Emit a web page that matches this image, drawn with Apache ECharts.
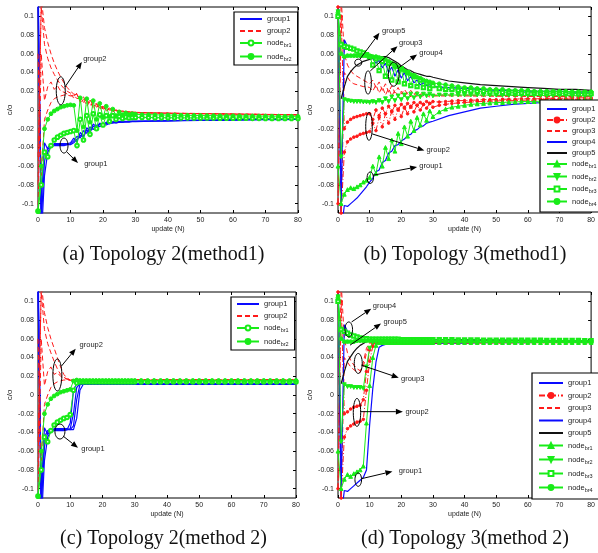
<!DOCTYPE html>
<html>
<head>
<meta charset="utf-8">
<script src="https://cdn.jsdelivr.net/npm/echarts@6/dist/echarts.min.js"></script>
<style>
  html, body { margin: 0; background: #fff; }
  #chart { width: 598px; height: 553px; }
</style>
</head>
<body>
<div id="chart"></div>
<script>
// sample positions (update N)
const XL = [0,1,2,3,4,5,6,7,8,9,10,11,12,13,14,15,16,17,18,19,20,21,22,23,24,25,26,27,28,29,30,35,40,45,50,55,60,65,70,75,80];
const XM = [0,1,2,3,4,5,6,7,8,9,10,11,12,13,14,15,16,17,18,19,20,21,22,23,24,25,26,27,28,29,30,
  32,34,36,38,40,42,44,46,48,50,52,54,56,58,60,62,64,66,68,70,72,74,76,78,80];
const Y_TICKS = [-0.1,-0.08,-0.06,-0.04,-0.02,0,0.02,0.04,0.06,0.08,0.1];

// ---- (a) Topology 2, method 1 ----
const A_BLUE = [
  [0.150,-0.120,-0.055,-0.040,-0.037,-0.037,-0.037,-0.037,-0.037,-0.037,
   -0.036,-0.033,-0.028,-0.030,-0.022,-0.025,-0.018,-0.021,-0.016,-0.018,
   -0.015,-0.016,-0.014,-0.014,-0.013,-0.013,-0.013,-0.0125,-0.0125,-0.012,
   -0.012,-0.0118,-0.0115,-0.0112,-0.011,-0.0108,-0.0105,-0.0103,-0.010,-0.0098,-0.0096],
  [0.130,-0.140,-0.070,-0.045,-0.039,-0.038,-0.038,-0.038,-0.038,-0.037,
   -0.037,-0.035,-0.031,-0.027,-0.029,-0.021,-0.024,-0.017,-0.020,-0.015,
   -0.017,-0.014,-0.015,-0.013,-0.014,-0.013,-0.0132,-0.0128,-0.013,-0.0125,
   -0.0125,-0.012,-0.0118,-0.0115,-0.0112,-0.011,-0.0108,-0.0106,-0.0104,-0.0102,-0.010],
  [0.110,-0.100,-0.035,-0.042,-0.038,-0.036,-0.036,-0.036,-0.036,-0.036,
   -0.035,-0.030,-0.034,-0.024,-0.028,-0.019,-0.022,-0.015,-0.018,-0.014,
   -0.016,-0.013,-0.014,-0.0125,-0.013,-0.0122,-0.0125,-0.012,-0.012,-0.0118,
   -0.0118,-0.0115,-0.0112,-0.011,-0.0107,-0.0105,-0.0102,-0.010,-0.0098,-0.0096,-0.0094]
];
const A_RED = [
  [-0.080,0.120,0.088,0.072,0.060,0.050,0.042,0.035,0.029,0.024,
   0.020,0.017,0.016,0.011,0.014,0.007,0.010,0.004,0.006,0.002,
   0.003,0.000,0.001,-0.001,0.000,-0.001,-0.0015,-0.002,-0.002,-0.0025,
   -0.0025,-0.003,-0.0032,-0.0035,-0.0037,-0.004,-0.0042,-0.0044,-0.0046,-0.0048,-0.005],
  [-0.110,0.060,0.010,0.025,0.030,0.022,0.026,0.020,0.019,0.017,
   0.016,0.013,0.017,0.008,0.012,0.004,0.009,0.002,0.006,0.001,
   0.003,-0.001,0.001,-0.002,0.000,-0.002,-0.001,-0.0025,-0.002,-0.003,
   -0.003,-0.0033,-0.0036,-0.0038,-0.004,-0.0042,-0.0044,-0.0046,-0.0048,-0.005,-0.0052],
  [0.060,-0.070,-0.010,0.000,0.008,0.012,0.014,0.015,0.016,0.016,
   0.015,0.016,0.012,0.014,0.008,0.011,0.005,0.008,0.003,0.005,
   0.001,0.002,0.000,0.000,-0.001,-0.001,-0.002,-0.002,-0.0025,-0.0025,
   -0.003,-0.0032,-0.0035,-0.0038,-0.004,-0.0042,-0.0045,-0.0047,-0.005,-0.0052,-0.0054],
  [-0.050,0.110,0.070,0.055,0.045,0.038,0.032,0.027,0.023,0.020,
   0.018,0.015,0.018,0.012,0.013,0.009,0.011,0.005,0.007,0.003,
   0.004,0.001,0.002,0.000,0.000,-0.001,-0.001,-0.002,-0.002,-0.002,
   -0.0025,-0.003,-0.0033,-0.0036,-0.0039,-0.0041,-0.0043,-0.0045,-0.0047,-0.0049,-0.005]
];
const A_NBR1 = [
  -0.108,-0.080,-0.045,-0.050,-0.038,-0.032,-0.029,-0.027,-0.025,-0.024,
  -0.023,-0.022,-0.038,-0.010,-0.032,-0.006,-0.026,-0.004,-0.020,-0.005,
  -0.016,-0.006,-0.012,-0.006,-0.010,-0.007,-0.009,-0.0075,-0.0085,-0.008,
  -0.008,-0.008,-0.008,-0.0082,-0.0082,-0.0083,-0.0083,-0.0084,-0.0084,-0.0085,-0.0085,-0.0086,-0.0086,
  -0.0087,-0.0087,-0.0088,-0.0088,-0.0088,-0.0089,-0.0089,-0.009,-0.009,-0.009,-0.009,-0.009,-0.009];
const A_NBR2 = [
  -0.108,-0.060,-0.020,-0.010,-0.004,-0.001,0.001,0.003,0.004,0.005,
  0.0055,0.005,-0.022,0.013,-0.018,0.012,-0.013,0.010,-0.010,0.007,
  -0.008,0.004,-0.007,0.001,-0.006,-0.002,-0.005,-0.003,-0.005,-0.004,
  -0.0045,-0.005,-0.005,-0.0052,-0.0053,-0.0054,-0.0055,-0.0056,-0.0057,-0.0058,-0.0059,-0.006,-0.006,
  -0.0061,-0.0062,-0.0062,-0.0063,-0.0064,-0.0064,-0.0065,-0.0065,-0.0066,-0.0066,-0.0067,-0.0067,-0.0068];

// ---- (c) Topology 2, method 2 ----
const C_BLUE = [
  [0.150,-0.120,-0.055,-0.040,-0.037,-0.037,-0.037,-0.037,-0.037,-0.037,
   -0.030,0.005,0.012,0.012,0.012,0.012,0.012,0.012,0.012,0.012,
   0.012,0.012,0.012,0.012,0.012,0.012,0.012,0.012,0.012,0.012,
   0.012,0.012,0.012,0.012,0.012,0.012,0.012,0.012,0.012,0.012,0.012],
  [0.130,-0.140,-0.070,-0.045,-0.039,-0.038,-0.038,-0.038,-0.038,-0.037,
   -0.036,-0.020,0.008,0.0118,0.0118,0.0118,0.0118,0.0118,0.0118,0.0118,
   0.0118,0.0118,0.0118,0.0118,0.0118,0.0118,0.0118,0.0118,0.0118,0.0118,
   0.0118,0.0118,0.0118,0.0118,0.0118,0.0118,0.0118,0.0118,0.0118,0.0118,0.0118],
  [0.110,-0.100,-0.035,-0.042,-0.038,-0.036,-0.036,-0.036,-0.036,-0.036,
   -0.037,-0.033,-0.005,0.011,0.0115,0.0115,0.0115,0.0115,0.0115,0.0115,
   0.0115,0.0115,0.0115,0.0115,0.0115,0.0115,0.0115,0.0115,0.0115,0.0115,
   0.0115,0.0115,0.0115,0.0115,0.0115,0.0115,0.0115,0.0115,0.0115,0.0115,0.0115],
  [0.120,-0.110,-0.045,-0.038,-0.037,-0.037,-0.037,-0.037,-0.037,-0.037,
   -0.037,-0.037,-0.025,0.005,0.0112,0.0112,0.0112,0.0112,0.0112,0.0112,
   0.0112,0.0112,0.0112,0.0112,0.0112,0.0112,0.0112,0.0112,0.0112,0.0112,
   0.0112,0.0112,0.0112,0.0112,0.0112,0.0112,0.0112,0.0112,0.0112,0.0112,0.0112]
];
const C_RED = [
  [-0.080,0.120,0.088,0.072,0.060,0.050,0.040,0.030,0.022,0.018,
   0.016,0.016,0.016,0.016,0.016,0.016,0.016,0.016,0.016,0.016,
   0.016,0.016,0.016,0.016,0.016,0.016,0.016,0.016,0.016,0.016,
   0.016,0.016,0.016,0.016,0.016,0.016,0.016,0.016,0.016,0.016,0.016],
  [-0.110,0.060,0.010,0.025,0.030,0.022,0.024,0.020,0.018,0.017,
   0.0162,0.0162,0.0162,0.0162,0.0162,0.0162,0.0162,0.0162,0.0162,0.0162,
   0.0162,0.0162,0.0162,0.0162,0.0162,0.0162,0.0162,0.0162,0.0162,0.0162,
   0.0162,0.0162,0.0162,0.0162,0.0162,0.0162,0.0162,0.0162,0.0162,0.0162,0.0162],
  [0.060,-0.070,-0.010,0.000,0.008,0.012,0.014,0.015,0.016,0.016,
   0.0155,0.0155,0.0155,0.0155,0.0155,0.0155,0.0155,0.0155,0.0155,0.0155,
   0.0155,0.0155,0.0155,0.0155,0.0155,0.0155,0.0155,0.0155,0.0155,0.0155,
   0.0155,0.0155,0.0155,0.0155,0.0155,0.0155,0.0155,0.0155,0.0155,0.0155,0.0155],
  [-0.050,0.110,0.070,0.055,0.045,0.036,0.028,0.022,0.019,0.017,
   0.0165,0.0165,0.0165,0.0165,0.0165,0.0165,0.0165,0.0165,0.0165,0.0165,
   0.0165,0.0165,0.0165,0.0165,0.0165,0.0165,0.0165,0.0165,0.0165,0.0165,
   0.0165,0.0165,0.0165,0.0165,0.0165,0.0165,0.0165,0.0165,0.0165,0.0165,0.0165]
];
const C_NBR1 = [
  -0.108,-0.080,-0.045,-0.050,-0.038,-0.032,-0.029,-0.027,-0.025,-0.024,
  -0.021,0.005,0.013,0.014,0.014,0.014,0.014,0.014,0.014,0.014,
  0.014,0.014,0.014,0.014,0.014,0.014,0.014,0.014,0.014,0.014,
  0.014,0.014,0.014,0.014,0.014,0.014,0.014,0.014,0.014,0.014,0.014,0.014,0.014,
  0.014,0.014,0.014,0.014,0.014,0.014,0.014,0.014,0.014,0.014,0.014,0.014,0.014];
const C_NBR2 = [
  -0.108,-0.060,-0.020,-0.010,-0.004,-0.001,0.001,0.003,0.004,0.005,
  0.006,0.015,0.016,0.0155,0.0155,0.0155,0.0155,0.0155,0.0155,0.0155,
  0.0155,0.0155,0.0155,0.0155,0.0155,0.0155,0.0155,0.0155,0.0155,0.0155,
  0.0155,0.0155,0.0155,0.0155,0.0155,0.0155,0.0155,0.0155,0.0155,0.0155,0.0155,0.0155,0.0155,
  0.0155,0.0155,0.0155,0.0155,0.0155,0.0155,0.0155,0.0155,0.0155,0.0155,0.0155,0.0155,0.0155];

// ---- (b) Topology 3, method 1 ----
const B_G1 = [
  0.150,-0.130,-0.102,-0.103,-0.100,-0.097,-0.094,-0.090,-0.086,-0.082,
  -0.077,-0.073,-0.066,-0.064,-0.056,-0.054,-0.046,-0.044,-0.038,-0.037,
  -0.033,-0.031,-0.027,-0.026,-0.022,-0.021,-0.018,-0.017,-0.014,-0.013,
  -0.012,-0.006,-0.002,0.002,0.004,0.006,0.007,0.008,0.0085,0.009,0.0095];
const B_G2 = [
  [0.110,-0.110,-0.045,-0.034,-0.031,-0.029,-0.028,-0.026,-0.025,-0.024,
   -0.023,-0.014,-0.022,-0.008,-0.018,-0.004,-0.014,-0.001,-0.010,0.001,
   -0.007,0.003,-0.004,0.004,-0.002,0.005,0.000,0.006,0.002,0.007,
   0.003,0.005,0.006,0.007,0.0075,0.008,0.0085,0.009,0.009,0.0095,0.0095,0.010,0.010,
   0.010,0.0105,0.0105,0.0105,0.011,0.011,0.011,0.011,0.0115,0.0115,0.0115,0.0115,0.012],
  [-0.100,0.100,-0.020,-0.013,-0.010,-0.008,-0.007,-0.006,-0.005,-0.004,
   -0.004,-0.010,0.000,-0.006,0.002,-0.004,0.004,-0.002,0.005,0.000,
   0.006,0.002,0.007,0.003,0.008,0.005,0.008,0.006,0.009,0.007,
   0.009,0.0085,0.009,0.0095,0.010,0.010,0.0105,0.0105,0.011,0.011,0.011,0.0115,0.0115,
   0.0115,0.012,0.012,0.012,0.012,0.0125,0.0125,0.0125,0.0125,0.013,0.013,0.013,0.013]
];
const B_G3 = [
  [-0.100,0.120,0.060,0.048,0.042,0.038,0.036,0.034,0.032,0.030,
   0.028,0.032,0.024,0.030,0.021,0.028,0.019,0.026,0.018,0.024,
   0.017,0.022,0.017,0.021,0.016,0.020,0.016,0.019,0.016,0.018,
   0.016,0.016,0.016,0.0158,0.0155,0.0155,0.0152,0.015,0.015,0.015,0.015],
  [0.110,-0.110,0.040,0.035,0.030,0.028,0.027,0.026,0.025,0.025,
   0.024,0.020,0.027,0.018,0.025,0.016,0.023,0.015,0.021,0.015,
   0.020,0.014,0.019,0.014,0.018,0.014,0.017,0.014,0.016,0.014,
   0.015,0.015,0.015,0.0148,0.0147,0.0146,0.0145,0.0145,0.0144,0.0144,0.0143]
];
const B_G4 = [
  0.120,-0.100,0.075,0.068,0.066,0.064,0.063,0.062,0.061,0.059,
  0.057,0.055,0.050,0.053,0.045,0.050,0.040,0.046,0.036,0.043,
  0.034,0.040,0.031,0.036,0.029,0.032,0.027,0.029,0.026,0.027,
  0.025,0.024,0.023,0.022,0.021,0.021,0.020,0.020,0.020,0.019,0.019];
const B_G5 = [
  null,0.012,0.025,0.036,0.041,0.045,0.048,0.050,0.052,0.053,
  0.054,0.055,0.056,0.056,0.057,0.057,0.056,0.054,0.052,0.050,
  0.047,0.045,0.043,0.042,0.040,0.039,0.038,0.037,0.036,0.036,
  0.035,0.031,0.029,0.027,0.026,0.025,0.024,0.023,0.022,0.022,0.021];
const B_NBR1 = [
  -0.060,-0.100,-0.090,-0.085,-0.083,-0.084,-0.082,-0.080,-0.077,-0.075,
  -0.072,-0.060,-0.068,-0.050,-0.060,-0.040,-0.052,-0.032,-0.044,-0.025,
  -0.036,-0.018,-0.028,-0.012,-0.022,-0.008,-0.016,-0.004,-0.011,-0.001,
  -0.007,-0.002,0.001,0.003,0.004,0.005,0.006,0.0065,0.007,0.0075,0.008,0.008,0.0085,
  0.0085,0.009,0.009,0.009,0.0095,0.0095,0.0095,0.010,0.010,0.010,0.010,0.0105,0.0105];
const B_NBR2 = [
  0.105,-0.050,0.011,0.010,0.0095,0.009,0.009,0.009,0.0085,0.0085,
  0.008,0.009,0.008,0.010,0.008,0.012,0.009,0.014,0.010,0.015,
  0.011,0.016,0.012,0.017,0.013,0.017,0.014,0.017,0.015,0.017,
  0.015,0.016,0.016,0.016,0.016,0.016,0.016,0.016,0.016,0.0158,0.0158,0.0157,0.0157,
  0.0156,0.0156,0.0155,0.0155,0.0155,0.0154,0.0154,0.0153,0.0153,0.0152,0.0152,0.0151,0.015];
const B_NBR3 = [
  0.100,0.070,0.068,0.067,0.066,0.065,0.063,0.062,0.061,0.059,
  0.057,0.048,0.055,0.042,0.052,0.036,0.050,0.032,0.047,0.030,
  0.044,0.028,0.040,0.026,0.036,0.025,0.032,0.024,0.029,0.023,
  0.026,0.023,0.022,0.022,0.021,0.021,0.0205,0.020,0.020,0.0195,0.0195,0.019,0.019,
  0.019,0.0185,0.0185,0.0185,0.018,0.018,0.018,0.018,0.0178,0.0178,0.0176,0.0176,0.0175];
const B_NBR4 = [
  0.104,0.060,0.057,0.058,0.058,0.058,0.058,0.058,0.058,0.058,
  0.058,0.057,0.057,0.056,0.055,0.054,0.052,0.050,0.048,0.046,
  0.044,0.042,0.040,0.038,0.037,0.035,0.034,0.032,0.031,0.030,
  0.029,0.028,0.027,0.026,0.025,0.024,0.024,0.023,0.023,0.022,0.022,0.022,0.021,
  0.021,0.021,0.021,0.020,0.020,0.020,0.020,0.020,0.020,0.0195,0.0195,0.0195,0.0195];

// ---- (d) Topology 3, method 2 ----
const D_G1 = [
  0.150,-0.130,-0.102,-0.103,-0.100,-0.097,-0.094,-0.091,-0.088,-0.080,
  -0.032,0.007,0.035,0.051,0.053,0.054,0.054,0.055,0.055,0.055,
  0.055,0.055,0.055,0.055,0.055,0.055,0.055,0.055,0.055,0.055,
  0.055,0.0555,0.0555,0.056,0.056,0.056,0.056,0.0565,0.0565,0.0565,0.057];
const D_G2 = [
  [0.110,-0.110,-0.045,-0.036,-0.033,-0.031,-0.029,-0.028,-0.026,0.005,
   0.036,0.052,0.055,0.0555,0.0555,0.0555,0.0555,0.0555,0.0555,0.0555,
   0.0555,0.0555,0.0555,0.0555,0.0555,0.0555,0.0555,0.0555,0.0555,0.0555,
   0.0555,0.0555,0.0555,0.0555,0.0555,0.0555,0.0555,0.0555,0.0555,0.0555,0.0555,0.0555,0.0555,
   0.0558,0.0558,0.0558,0.0558,0.0558,0.0558,0.0558,0.056,0.056,0.056,0.056,0.056,0.056],
  [-0.100,0.100,-0.020,-0.018,-0.015,-0.013,-0.012,-0.011,-0.005,0.025,
   0.048,0.055,0.056,0.056,0.056,0.056,0.056,0.056,0.056,0.056,
   0.056,0.056,0.056,0.056,0.056,0.056,0.056,0.056,0.056,0.056,
   0.056,0.056,0.056,0.056,0.056,0.056,0.056,0.056,0.056,0.056,0.056,0.056,0.056,
   0.056,0.056,0.056,0.056,0.056,0.056,0.056,0.056,0.056,0.056,0.056,0.056,0.056]
];
const D_G3 = [
  [-0.100,0.120,0.060,0.045,0.037,0.032,0.028,0.026,0.030,0.045,
   0.055,0.057,0.057,0.057,0.057,0.057,0.057,0.057,0.057,0.057,
   0.057,0.057,0.057,0.057,0.057,0.057,0.057,0.057,0.057,0.057,
   0.057,0.057,0.057,0.057,0.057,0.057,0.057,0.057,0.057,0.057,0.057],
  [0.110,-0.110,0.040,0.035,0.030,0.027,0.025,0.024,0.035,0.050,
   0.056,0.056,0.056,0.056,0.056,0.056,0.056,0.056,0.056,0.056,
   0.056,0.056,0.056,0.056,0.056,0.056,0.056,0.056,0.056,0.056,
   0.056,0.056,0.056,0.056,0.056,0.056,0.056,0.056,0.056,0.056,0.056]
];
const D_G4 = [
  0.120,-0.100,0.075,0.068,0.066,0.064,0.063,0.062,0.061,0.060,
  0.060,0.060,0.0598,0.0596,0.0595,0.0594,0.0593,0.0592,0.059,0.059,
  0.059,0.059,0.059,0.059,0.059,0.059,0.059,0.059,0.059,0.059,
  0.059,0.0588,0.0586,0.0585,0.0584,0.0583,0.0582,0.0582,0.058,0.058,0.058];
const D_G5 = [
  null,0.012,0.025,0.036,0.041,0.046,0.050,0.053,0.055,0.057,
  0.058,0.059,0.059,0.059,0.059,0.059,0.059,0.059,0.059,0.059,
  0.059,0.059,0.059,0.059,0.059,0.059,0.059,0.059,0.059,0.059,
  0.059,0.059,0.0588,0.0586,0.0585,0.0584,0.0583,0.0582,0.0582,0.0581,0.058];
const D_NBR1 = [
  -0.060,-0.100,-0.090,-0.085,-0.087,-0.084,-0.082,-0.080,-0.076,-0.030,
  0.010,0.040,0.053,0.056,0.056,0.056,0.056,0.056,0.056,0.056,
  0.056,0.056,0.056,0.056,0.056,0.056,0.056,0.056,0.056,0.056,
  0.056,0.056,0.056,0.056,0.056,0.056,0.056,0.056,0.056,0.056,0.056,0.056,0.056,
  0.056,0.056,0.056,0.056,0.056,0.056,0.056,0.056,0.056,0.056,0.056,0.056,0.056];
const D_NBR2 = [
  0.105,-0.050,0.011,0.009,0.009,0.008,0.008,0.008,0.007,0.030,
  0.050,0.056,0.0565,0.0565,0.0565,0.0565,0.0565,0.0565,0.0565,0.0565,
  0.0565,0.0565,0.0565,0.0565,0.0565,0.0565,0.0565,0.0565,0.0565,0.0565,
  0.0565,0.0565,0.0565,0.0565,0.0565,0.0565,0.0565,0.0565,0.0565,0.0565,0.0565,0.0565,0.0565,
  0.0565,0.0565,0.0565,0.0565,0.0565,0.0565,0.0565,0.0565,0.0565,0.0565,0.0565,0.0565,0.0565];
const D_NBR3 = [
  0.100,0.070,0.068,0.066,0.064,0.063,0.062,0.061,0.060,0.060,
  0.0595,0.0595,0.0595,0.0595,0.0595,0.0595,0.0595,0.0595,0.0595,0.0595,
  0.059,0.059,0.059,0.059,0.059,0.059,0.059,0.059,0.059,0.059,
  0.059,0.059,0.059,0.059,0.0588,0.0588,0.0588,0.0588,0.0586,0.0586,0.0586,0.0586,0.0585,
  0.0585,0.0585,0.0584,0.0584,0.0584,0.0583,0.0583,0.0583,0.0582,0.0582,0.0582,0.058,0.058];
const D_NBR4 = [
  0.104,0.060,0.057,0.057,0.057,0.057,0.058,0.058,0.058,0.058,
  0.058,0.058,0.058,0.058,0.058,0.058,0.058,0.058,0.058,0.058,
  0.0578,0.0578,0.0578,0.0578,0.0578,0.0578,0.0578,0.0578,0.0578,0.0578,
  0.0575,0.0575,0.0575,0.0575,0.0575,0.0575,0.0575,0.0575,0.0575,0.0575,0.0575,0.0575,0.0575,
  0.0575,0.0575,0.0575,0.0575,0.0575,0.0575,0.0575,0.0575,0.0575,0.0575,0.0575,0.0575,0.0575];

// annotation callouts, in data coordinates (c = ellipse centre, r = ellipse radii in px)
const ANN_A = [
  {t:'group2', c:[7.0,0.0205], r:[4.5,14], from:[8.3,0.0246], to:[13.5,0.0513], at:[13.9,0.0542]},
  {t:'group1', c:[8.0,-0.038], r:[4,7.5], from:[8.9,-0.0449], to:[12.3,-0.0567], at:[14.2,-0.0578]}
];
const ANN_B = [
  {t:'group5', c:[6.4,0.0506], r:[3.5,3.5], from:[6.9,0.0541], to:[13.1,0.0824], at:[13.9,0.0845]},
  {t:'group3', c:[9.5,0.0294], r:[3.3,11.7], from:[10.2,0.0417], to:[18.8,0.0682], at:[19.3,0.0718]},
  {t:'group4', c:[17.6,0.0382], r:[5.3,12], from:[19.3,0.0453], to:[25,0.0594], at:[25.7,0.0605]},
  {t:'group2', c:[9.8,-0.0175], r:[3.3,14], from:[10.8,-0.0255], to:[27.3,-0.0432], at:[28,-0.0425]},
  {t:'group1', c:[10.2,-0.0723], r:[3.2,5.8], from:[11,-0.0697], to:[25,-0.0608], at:[25.7,-0.0601]}
];
const ANN_C = [
  {t:'group2', c:[6.0,0.0214], r:[4.5,16], from:[7.3,0.031], to:[11.7,0.0495], at:[12.9,0.0535]},
  {t:'group1', c:[6.8,-0.039], r:[5,7.5], from:[7.8,-0.0439], to:[12.4,-0.0564], at:[13.4,-0.0578]}
];
const ANN_D = [
  {t:'group4', c:[3.4,0.07], r:[3.8,7.5], from:[4.3,0.078], to:[10.5,0.0922], at:[11,0.095]},
  {t:'group5', c:null, from:[3.8,0.0532], to:[13.6,0.0763], at:[14.4,0.078]},
  {t:'group3', c:[6.4,0.0337], r:[4,10], from:[7.4,0.0319], to:[19.2,0.0184], at:[19.9,0.017]},
  {t:'group2', c:[6.0,-0.0186], r:[3.7,14], from:[7.1,-0.0178], to:[20.5,-0.0178], at:[21.3,-0.0178]},
  {t:'group1', c:[6.4,-0.0904], r:[3.3,6.7], from:[7.4,-0.0894], to:[17.2,-0.0816], at:[19.2,-0.0816]}
];

const FONT = '"Liberation Sans", Arial, sans-serif';
const GREEN = '#18ec18';
const STY = {
  blue:   {color: '#0a0aff', width: 1.2},
  red:    {color: '#ff1a1a', width: 1, type: [5, 3]},
  redDot: {color: '#ff1a1a', width: 1, type: [6, 2, 1, 2], symbol: 'circle', size: 2.6},
  black:  {color: '#111111', width: 1.2},
  gOpen:  {color: GREEN, width: 1, symbol: 'emptyCircle', size: 3.6},
  gFill:  {color: GREEN, width: 1, symbol: 'circle', size: 3.8},
  gUp:    {color: GREEN, width: 1, symbol: 'triangle', size: 3.8},
  gDown:  {color: GREEN, width: 1, symbol: 'triangle', size: 3.8, rotate: 180},
  gSq:    {color: GREEN, width: 1, symbol: 'emptyRect', size: 3.4}
};

const PANELS = [
  { key: 'a', grid: {left: 38, top: 7, width: 260, height: 206}, nameGap: 24,
    caption: '(a) Topology 2(method1)', cap: [163.5, 254.5],
    legend: {left: 234, top: 12, iw: 22, gap: 4, pad: [3, 6, 3, 5]},
    sets: [['group1','blue',XL,A_BLUE], ['group2','red',XL,A_RED],
           ['node_br1','gOpen',XM,[A_NBR1]], ['node_br2','gFill',XM,[A_NBR2]]],
    ann: ANN_A },
  { key: 'b', grid: {left: 338, top: 7, width: 259, height: 206}, nameGap: 24,
    caption: '(b) Topology 3(method1)', cap: [465, 254.5],
    legend: {left: 540, top: 100, iw: 20, gap: 3, pad: [5, 4, 5, 6]},
    sets: [['group1','blue',XL,[B_G1]], ['group2','redDot',XM,B_G2], ['group3','red',XL,B_G3],
           ['group4','blue',XL,[B_G4]], ['group5','black',XL,[B_G5]],
           ['node_br1','gUp',XM,[B_NBR1]], ['node_br2','gDown',XM,[B_NBR2]],
           ['node_br3','gSq',XM,[B_NBR3]], ['node_br4','gFill',XM,[B_NBR4]]],
    ann: ANN_B },
  { key: 'c', grid: {left: 38, top: 292, width: 258, height: 206}, nameGap: 24,
    caption: '(c) Topology 2(method 2)', cap: [163.5, 539],
    legend: {left: 231, top: 297, iw: 22, gap: 4, pad: [3, 6, 3, 5]},
    sets: [['group1','blue',XL,C_BLUE], ['group2','red',XL,C_RED],
           ['node_br1','gOpen',XM,[C_NBR1]], ['node_br2','gFill',XM,[C_NBR2]]],
    ann: ANN_C },
  { key: 'd', grid: {left: 338, top: 292, width: 259, height: 206}, nameGap: 24,
    caption: '(d) Topology 3(method 2)', cap: [465, 539],
    legend: {left: 532, top: 373, iw: 24, gap: 4.5, pad: [6, 6, 6, 6]},
    sets: [['group1','blue',XL,[D_G1]], ['group2','redDot',XM,D_G2], ['group3','red',XL,D_G3],
           ['group4','blue',XL,[D_G4]], ['group5','black',XL,[D_G5]],
           ['node_br1','gUp',XM,[D_NBR1]], ['node_br2','gDown',XM,[D_NBR2]],
           ['node_br3','gSq',XM,[D_NBR3]], ['node_br4','gFill',XM,[D_NBR4]]],
    ann: ANN_D }
];

const tickFmt = v => String(+(+v).toFixed(2));

const grids = [], xAxes = [], yAxes = [], series = [], legends = [];
PANELS.forEach((p, gi) => {
  grids.push(Object.assign({show: true, backgroundColor: '#fff', borderColor: '#000', borderWidth: 1}, p.grid));
  ['bottom', 'top'].forEach(pos => xAxes.push({
    type: 'value', gridIndex: gi, position: pos, min: 0, max: 80, interval: 10,
    axisLine: {show: false, onZero: false}, splitLine: {show: false},
    axisTick: {show: true, inside: true, length: 3, lineStyle: {color: '#000'}},
    axisLabel: {show: pos === 'bottom', fontSize: 7, color: '#222', margin: 4, fontFamily: FONT},
    name: pos === 'bottom' ? 'update (N)' : '', nameLocation: 'middle', nameGap: 13,
    nameTextStyle: {fontSize: 7, color: '#222', fontFamily: FONT}
  }));
  ['left', 'right'].forEach(pos => yAxes.push({
    type: 'value', gridIndex: gi, position: pos, min: -0.11, max: 0.11,
    axisLine: {show: false, onZero: false}, splitLine: {show: false},
    axisTick: {show: true, inside: true, length: 3, customValues: Y_TICKS, lineStyle: {color: '#000'}},
    axisLabel: {show: pos === 'left', customValues: Y_TICKS, formatter: tickFmt,
                fontSize: 7, color: '#222', margin: 4, fontFamily: FONT},
    name: pos === 'left' ? 'c/o' : '', nameLocation: 'middle', nameGap: p.nameGap, nameRotate: 90,
    nameTextStyle: {fontSize: 8, color: '#222', fontFamily: FONT}
  }));
  const names = [];
  p.sets.forEach(([name, sty, xs, lines]) => {
    const s = STY[sty];
    const full = p.key + '|' + name;
    // marker-less entries: hide the legend's default dot, keep its line
    names.push(s.symbol ? {name: full} : {name: full, itemStyle: {opacity: 0}});
    lines.forEach(ys => series.push({
      type: 'line', name: full, xAxisIndex: gi * 2, yAxisIndex: gi * 2,
      data: xs.map((x, i) => [x, ys[i] === null ? '-' : ys[i]]),
      symbol: s.symbol || 'none', symbolSize: s.size || 4, symbolRotate: s.rotate || 0,
      showSymbol: !!s.symbol,
      lineStyle: {color: s.color, width: s.width, type: s.type || 'solid'},
      itemStyle: {color: s.color, borderColor: s.color, borderWidth: 1},
      silent: true, animation: false, emphasis: {disabled: true}
    }));
  });
  const L = p.legend;
  legends.push({
    data: names, left: L.left, top: L.top, orient: 'vertical', selectedMode: false,
    itemWidth: L.iw, itemHeight: 6, itemGap: L.gap, padding: L.pad,
    backgroundColor: '#fff', borderColor: '#000', borderWidth: 1.2, borderRadius: 0,
    formatter: n => {
      const k = n.split('|')[1];
      if (k.indexOf('_') < 0) return k;
      const parts = k.split('_');
      return '{t|' + parts[0] + '}{s|' + parts[1] + '}';
    },
    textStyle: {fontSize: 7.5, color: '#222', fontFamily: FONT,
      rich: {t: {fontSize: 7.5, color: '#222', fontFamily: FONT},
             s: {fontSize: 5.5, color: '#222', fontFamily: FONT, padding: [5, 0, 0, 0]}}}
  });
});

const chart = echarts.init(document.getElementById('chart'), null, {renderer: 'canvas'});
chart.setOption({
  backgroundColor: '#fff', animation: false,
  grid: grids, xAxis: xAxes, yAxis: yAxes, legend: legends, series: series
});

// callouts (ellipses, arrows, labels) and captions
const els = [];
PANELS.forEach((p, gi) => {
  const P = v => chart.convertToPixel({gridIndex: gi}, v);
  p.ann.forEach(a => {
    if (a.c) {
      const c = P(a.c);
      els.push({type: 'ellipse', z: 50, shape: {cx: c[0], cy: c[1], rx: a.r[0], ry: a.r[1]},
                style: {fill: null, stroke: '#000', lineWidth: 1}});
    }
    const f = P(a.from), t = P(a.to);
    const ang = Math.atan2(t[1] - f[1], t[0] - f[0]);
    const HL = 7, HW = 2.8;
    const bx = t[0] - HL * Math.cos(ang), by = t[1] - HL * Math.sin(ang);
    els.push({type: 'line', z: 50, shape: {x1: f[0], y1: f[1], x2: bx, y2: by},
              style: {stroke: '#000', lineWidth: 1}});
    els.push({type: 'polygon', z: 50, shape: {points: [t,
              [bx - HW * Math.sin(ang), by + HW * Math.cos(ang)],
              [bx + HW * Math.sin(ang), by - HW * Math.cos(ang)]]},
              style: {fill: '#000'}});
    const q = P(a.at);
    els.push({type: 'text', z: 50, x: q[0], y: q[1],
              style: {text: a.t, font: '7.5px ' + FONT, fill: '#222', align: 'left', verticalAlign: 'middle'}});
  });
  els.push({type: 'text', z: 50, x: p.cap[0], y: p.cap[1],
            style: {text: p.caption, font: '20px "Liberation Serif", "Times New Roman", serif',
                    fill: '#111', align: 'center', verticalAlign: 'middle'}});
});
chart.setOption({graphic: els});
</script>
</body>
</html>
